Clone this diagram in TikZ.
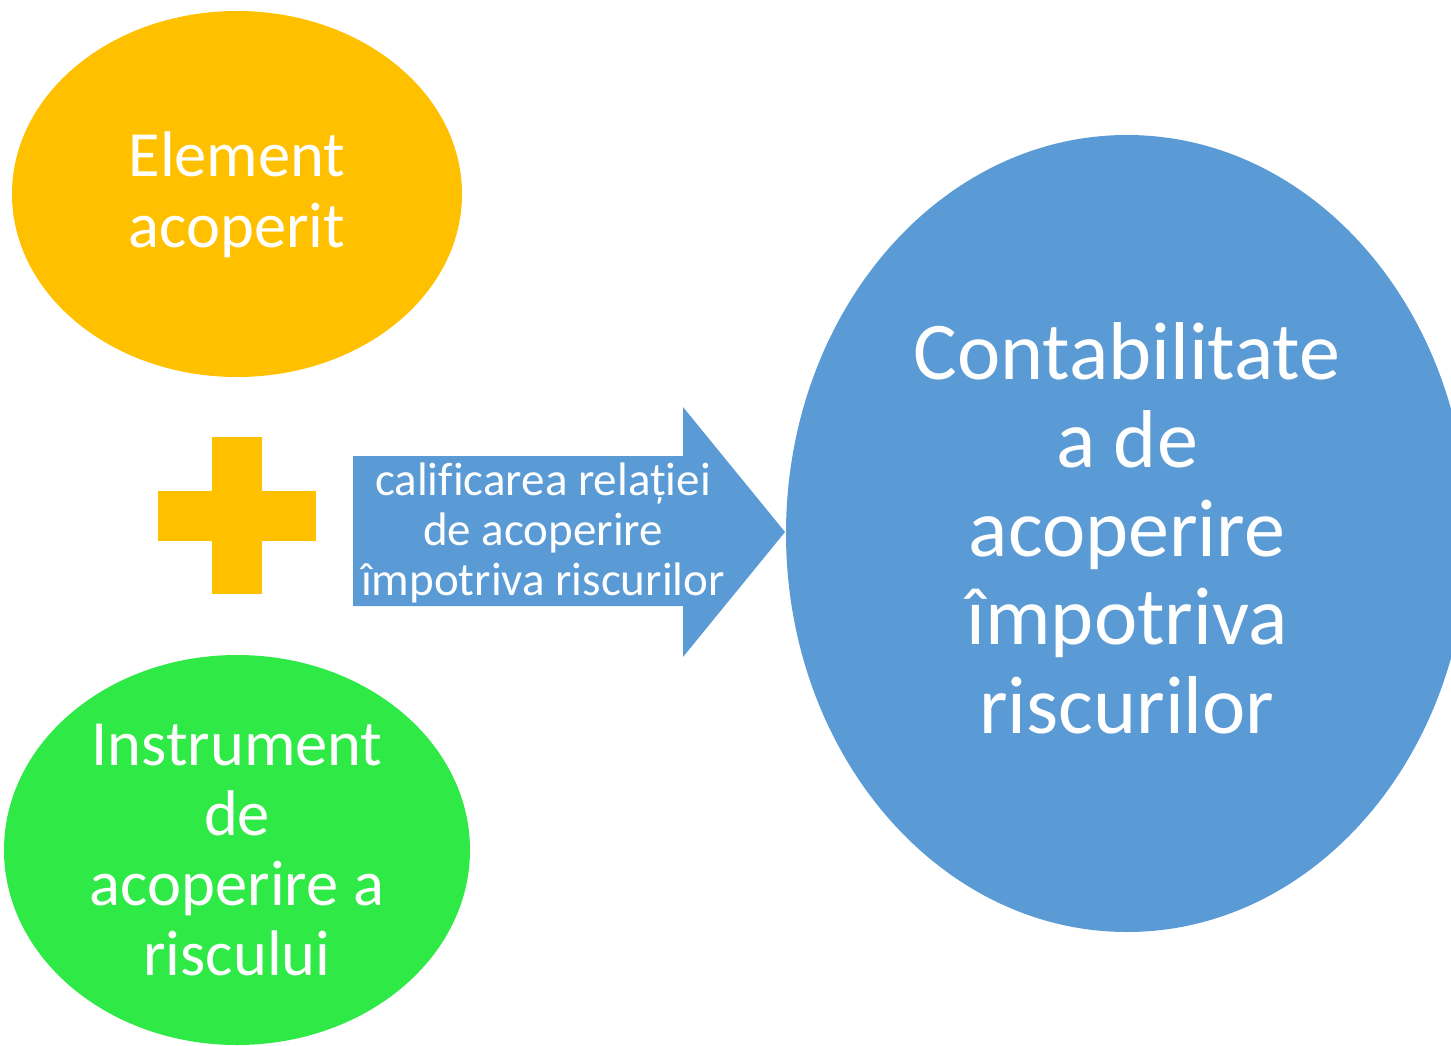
\documentclass[tikz,border=0pt]{standalone}
\usepackage{fontspec}
\setmainfont{Carlito}[Ligatures=NoCommon]
\definecolor{cOrange}{HTML}{FFC000}
\definecolor{cBlue}{HTML}{5B9BD5}
\definecolor{cGreen}{HTML}{2EE946}
\begin{document}
\begin{tikzpicture}[x=1pt,y=-1pt,
  lbl/.style={text=white, align=center, inner sep=0pt},
  bigtxt/.style={lbl, font=\fontsize{64.5}{71}\selectfont},
  greentxt/.style={lbl, font=\fontsize{64.5}{70.3}\selectfont},
  hugetxt/.style={lbl, font=\fontsize{82}{88.5}\selectfont},
  smalltxt/.style={lbl, font=\fontsize{47}{50}\selectfont}]
\useasboundingbox (0,0) rectangle (1451,1046);
\clip (0,0) rectangle (1451,1046);
% shapes
\fill[cOrange] (237,194) ellipse [x radius=225, y radius=183];
\fill[cGreen] (237,850) ellipse [x radius=233, y radius=195];
\fill[cBlue] (1127,533.5) ellipse [x radius=341, y radius=398.5];
\fill[cOrange] (212,437) rectangle (262,594);
\fill[cOrange] (158,491) rectangle (316,541);
\fill[cBlue] (353,456) -- (683,456) -- (683,407) -- (785,532) -- (683,657) -- (683,606) -- (353,606) -- cycle;
% texts
\node[bigtxt] (elem) at (237,195) {Element\\acoperit};
\node[greentxt] (instr) at (237,850) {Instrument\\de\\acoperire a\\riscului};
\node[hugetxt] (cont) at (1127,528) {Contabilitate\\a de\\acoperire\\împotriva\\riscurilor};
\node[smalltxt] (calif) at (543,533) {calificarea relației\\de acoperire\\împotriva riscurilor};
\end{tikzpicture}
\end{document}
